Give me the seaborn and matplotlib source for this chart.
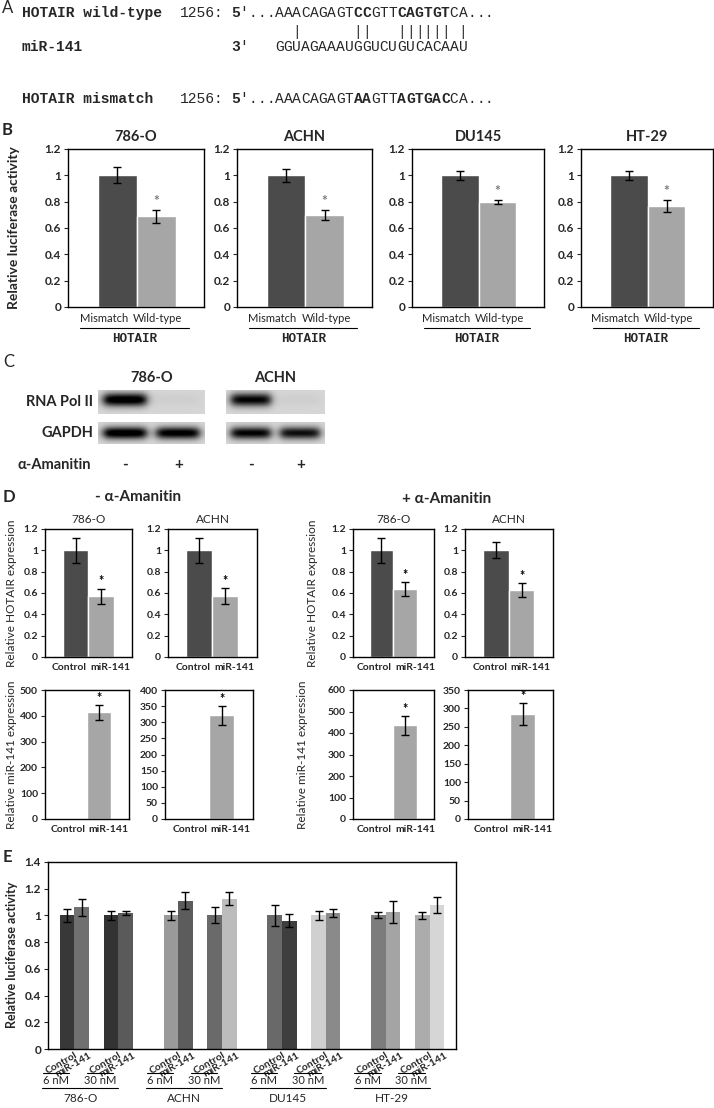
import numpy as np
import matplotlib
matplotlib.use("Agg")
import matplotlib.pyplot as plt
from matplotlib.ticker import FuncFormatter, MultipleLocator
import seaborn as sns

sns.set_theme(style="ticks")
plt.rcParams["font.family"] = ["Lato", "DejaVu Sans"]
plt.rcParams["axes.edgecolor"] = "black"
plt.rcParams["axes.linewidth"] = 1.0

# ---- data -------------------------------------------------------------
# panel A (sequence alignment)
seq_wild = "5'...AAACAGAGTCCGTTCAGTGTCA..."
seq_mir = "3'   GGUAGAAAUGGUCUGUCACAAU"
seq_pairs = "       |      ||   |||||| |"
seq_mismatch = "5'...AAACAGAGTAAGTTAGTGACCA..."
bold_idx = [0, 14, 15, 19, 20, 21, 22, 23, 24]

# panel B (luciferase, HOTAIR mismatch vs wild-type)
cell_lines = ["786-O", "ACHN", "DU145", "HT-29"]
b_groups = ["Mismatch", "Wild-type"]
b_vals = [[1.0, 0.69], [1.0, 0.70], [1.0, 0.80], [1.0, 0.77]]
b_errs = [[0.06, 0.05], [0.05, 0.04], [0.035, 0.015], [0.035, 0.045]]

# panel C (western blot lane intensities, 0 = none, 1 = saturated)
c_lines = ["786-O", "ACHN"]
c_polii = [[0.95, 0.03], [0.85, 0.03]]
c_gapdh = [[0.95, 0.9], [0.85, 0.8]]
c_treat = ["-", "+"]

# panel D (qPCR)
d_lines = ["786-O", "ACHN"]
d_groups = ["Control", "miR-141"]
d_hotair_minus = [[1.0, 0.57], [1.0, 0.57]]
d_hotair_minus_err = [[0.115, 0.072], [0.115, 0.075]]
d_hotair_plus = [[1.0, 0.64], [1.0, 0.63]]
d_hotair_plus_err = [[0.12, 0.065], [0.075, 0.063]]
d_mir_minus = [[1.0, 413], [1.0, 322]]
d_mir_minus_err = [[0, 30], [0, 29]]
d_mir_plus = [[1.0, 435], [1.0, 285]]
d_mir_plus_err = [[0, 44], [0, 30]]

# panel E (luciferase with control / miR-141 at 6 and 30 nM)
e_doses = ["6 nM", "30 nM"]
e_groups = ["Control", "miR-141"]
e_vals = [1.0, 1.06, 1.0, 1.02,
          1.0, 1.11, 1.0, 1.125,
          1.0, 0.96, 1.0, 1.02,
          1.0, 1.026, 1.0, 1.078]
e_errs = [0.047, 0.063, 0.035, 0.016,
          0.035, 0.062, 0.06, 0.05,
          0.08, 0.048, 0.035, 0.03,
          0.022, 0.082, 0.028, 0.058]
e_colors = ["#383838", "#707070", "#333333", "#5a5a5a",
            "#9a9a9a", "#5c5c5c", "#6a6a6a", "#bcbcbc",
            "#696969", "#3e3e3e", "#d0d0d0", "#8a8a8a",
            "#7c7c7c", "#a4a4a4", "#acacac", "#d6d6d6"]

DARK = "#4b4b4b"
LIGHT = "#a6a6a6"

W, H = 714, 1108
fig = plt.figure(figsize=(W / 100, H / 100), dpi=100)


def px_ax(l, t, r, b):
    return fig.add_axes([l / W, 1 - b / H, (r - l) / W, (b - t) / H])


def ptext(x, y, s, **kw):
    kw.setdefault("ha", "left")
    kw.setdefault("va", "center")
    fig.text(x / W, 1 - y / H, s, **kw)


def fmt_ticks(ax, step, size=8.5, bold=True):
    ax.yaxis.set_major_locator(MultipleLocator(step))
    ax.yaxis.set_major_formatter(FuncFormatter(lambda v, p: f"{v:g}"))
    ax.tick_params(axis="y", length=3, width=0.8, labelsize=size, pad=2)
    if bold:
        for lbl in ax.get_yticklabels():
            lbl.set_fontweight("bold")


def pair_bars(ax, cats, vals, errs, ymax, star_color="black", star_size=9):
    sns.barplot(x=cats, y=vals, hue=cats, palette=[DARK, LIGHT], width=1,
                legend=False, errorbar=None, saturation=1, ax=ax)
    for i, (v, e) in enumerate(zip(vals, errs)):
        if e > 0:
            ax.errorbar(i, v, yerr=e, fmt="none", ecolor="black",
                        elinewidth=1, capsize=3, capthick=1)
    ax.text(1, vals[1] + errs[1] + 0.055 * ymax, "*", ha="center", va="center",
            fontsize=star_size, color=star_color, weight="bold")
    ax.set_ylim(0, ymax)
    ax.set_xlabel("")
    ax.set_ylabel("")


def pair_labels(ax, cats, xl, xr, y, size, weight="normal"):
    # category names written as one phrase under the two touching bars
    ax.set_xticks([])
    tr = ax.get_xaxis_transform()
    ax.text(xl, y, cats[0], transform=tr, ha="right", va="center",
            fontsize=size, weight=weight)
    ax.text(xr, y, cats[1], transform=tr, ha="left", va="center",
            fontsize=size, weight=weight)


# ---- panel A ----------------------------------------------------------
mono = "Liberation Mono"
cw = 8.75
ptext(2, 8, "A", fontsize=12)
for y, label in [(13, "HOTAIR wild-type"), (47, "miR-141"), (99, "HOTAIR mismatch")]:
    ptext(22, y, label, family=mono, weight="bold", fontsize=10.5)
for y in (13, 99):
    ptext(180, y, "1256:", family=mono, fontsize=10.5)
for y, seq in [(13, seq_wild), (32, seq_pairs), (47, seq_mir), (99, seq_mismatch)]:
    for i, ch in enumerate(seq):
        if ch == " ":
            continue
        bold = i in bold_idx and seq is not seq_mir and seq is not seq_pairs
        if seq is seq_mir and i == 0:
            bold = True
        ptext(231 + i * cw, y, ch, family=mono, fontsize=10.5,
              weight="bold" if bold else "normal")

# ---- panel B ----------------------------------------------------------
ptext(2, 130, "B", fontsize=12, weight="bold")
b_boxes = [(68, 149, 204, 307), (237, 149, 372, 307),
           (412, 149, 544, 307), (581, 149, 713, 307)]
for box, line, vals, errs in zip(b_boxes, cell_lines, b_vals, b_errs):
    ax = px_ax(*box)
    pair_bars(ax, b_groups, vals, errs, 1.2, star_color="#7a7a7a", star_size=10)
    ax.set_xlim(-1.27, 2.23)
    fmt_ticks(ax, 0.2, size=8.5)
    pair_labels(ax, b_groups, 0.27, 0.4, -0.07, 8)
    ax.set_title(line, fontsize=10.5, fontweight="bold", pad=6)
    tr = ax.get_xaxis_transform()
    ax.plot([-0.95, 1.85], [-0.135, -0.135], transform=tr, clip_on=False,
            color="black", lw=0.8)
    ax.text(0.45, -0.2, "HOTAIR", transform=tr, ha="center", va="center",
            family=mono, weight="bold", fontsize=9)
ptext(14, 228, "Relative luciferase activity", rotation=90, ha="center",
      fontsize=10, weight="bold")

# ---- panel C ----------------------------------------------------------
ptext(3, 362, "C", fontsize=12)


def blot(ax, lanes, vc, vs):
    hh, ww = 30, 120
    yy = np.linspace(0, 1, hh)[:, None]
    xx = np.linspace(0, 1, ww)[None, :]
    img = np.full((hh, ww), 0.16)
    n = len(lanes)
    for k, a in enumerate(lanes):
        c = (k + 0.5) / n
        hprof = 1 / (1 + np.exp((np.abs(xx - c) - 0.2) / 0.025))
        vprof = np.exp(-0.5 * ((yy - vc) / vs) ** 2)
        img = img + a * hprof * vprof
    ax.imshow(np.clip(img, 0, 1), cmap="gray_r", vmin=0, vmax=1,
              aspect="auto", interpolation="bilinear")
    ax.set_axis_off()


c_x = [(98, 205), (226, 325)]
for (l, r), line, pol, gap in zip(c_x, c_lines, c_polii, c_gapdh):
    blot(px_ax(l, 390, r, 414), pol, 0.4, 0.2)
    blot(px_ax(l, 422, r, 444), gap, 0.5, 0.2)
    ptext((l + r) / 2, 378, line, ha="center", fontsize=10.5, weight="bold")
    for k, s in enumerate(c_treat):
        ptext(l + (r - l) * (k + 0.5) / 2, 465, s, ha="center",
              fontsize=11, weight="bold")
ptext(93, 402, "RNA Pol II", ha="right", fontsize=10.5, weight="bold")
ptext(93, 433, "GAPDH", ha="right", fontsize=10.5, weight="bold")
ptext(17, 465, "α-Amanitin", fontsize=10.5, weight="bold")

# ---- panel D ----------------------------------------------------------
ptext(3, 497, "D", fontsize=12, weight="bold")
ptext(138, 497, "- α-Amanitin", ha="center", fontsize=11, weight="bold")
ptext(447, 499, "+ α-Amanitin", ha="center", fontsize=11, weight="bold")

d_top = [(45, 529, 132, 657), (168, 529, 257, 657),
         (353, 529, 434, 657), (465, 529, 553, 657)]
d_bot = [(45, 690, 129, 819), (165, 690, 253, 819),
         (353, 690, 434, 819), (468, 690, 553, 819)]
top_vals = d_hotair_minus + d_hotair_plus
top_errs = d_hotair_minus_err + d_hotair_plus_err
bot_vals = d_mir_minus + d_mir_plus
bot_errs = d_mir_minus_err + d_mir_plus_err
bot_scale = [(500, 100), (400, 50), (600, 100), (350, 50)]

for i, box in enumerate(d_top):
    ax = px_ax(*box)
    pair_bars(ax, d_groups, top_vals[i], top_errs[i], 1.2)
    ax.set_xlim(-1.2, 2.22)
    fmt_ticks(ax, 0.2, size=7.5)
    pair_labels(ax, d_groups, 0.45, 0.58, -0.085, 7.5, weight="bold")
    ax.set_title(d_lines[i % 2], fontsize=8.5, pad=4)

for i, box in enumerate(d_bot):
    ax = px_ax(*box)
    ymax, step = bot_scale[i]
    pair_bars(ax, d_groups, bot_vals[i], bot_errs[i], ymax)
    ax.set_xlim(-1.2, 2.22)
    fmt_ticks(ax, step, size=7.5)
    pair_labels(ax, d_groups, 0.45, 0.58, -0.085, 7.5, weight="bold")

for x in (12, 313):
    ptext(x, 593, "Relative HOTAIR expression", rotation=90, ha="center",
          fontsize=8.5)
for x in (12, 303):
    ptext(x, 755, "Relative miR-141 expression", rotation=90, ha="center",
          fontsize=8.5)

# ---- panel E ----------------------------------------------------------
ptext(3, 857, "E", fontsize=12, weight="bold")
ax = px_ax(48, 862, 456, 1049)
pos = [g * 7.1 + d * 3 + t for g in range(len(cell_lines))
       for d in range(len(e_doses)) for t in range(len(e_groups))]
sns.barplot(x=pos, y=e_vals, native_scale=True, width=1, color="gray",
            errorbar=None, saturation=1, ax=ax)
for patch, col in zip(ax.patches, e_colors):
    patch.set_facecolor(col)
    patch.set_edgecolor("none")
ax.errorbar(pos, e_vals, yerr=e_errs, fmt="none", ecolor="black",
            elinewidth=1, capsize=3, capthick=1)
ax.set_xlim(-1.3, 26.6)
ax.set_ylim(0, 1.4)
fmt_ticks(ax, 0.2, size=8.5)
ax.set_xticks([p + 0.5 for p in pos])
ax.set_xticklabels(e_groups * (len(pos) // 2), rotation=30, ha="right",
                   va="top", rotation_mode="anchor", fontsize=7.5,
                   weight="bold")
ax.tick_params(axis="x", length=0, pad=1)
ax.set_xlabel("")
ax.set_ylabel("")
tr = ax.get_xaxis_transform()
for g, line in enumerate(cell_lines):
    s = g * 7.1
    for d, dose in enumerate(e_doses):
        c = s + d * 3 + 0.5
        ax.plot([c - 2.15, c - 0.33], [-0.13, -0.13], transform=tr,
                clip_on=False, color="black", lw=0.8)
        ax.text(c - 1.24, -0.168, dose, transform=tr, ha="center",
                va="center", fontsize=8)
    ax.plot([s - 1.7, s + 3.5], [-0.207, -0.207], transform=tr,
            clip_on=False, color="black", lw=0.8)
    ax.text(s + 0.9, -0.264, line, transform=tr, ha="center", va="center",
            fontsize=8.5)
ptext(12, 955, "Relative luciferase activity", rotation=90, ha="center",
      fontsize=9, weight="bold")

fig.savefig("out.png", dpi=100, facecolor="white")
